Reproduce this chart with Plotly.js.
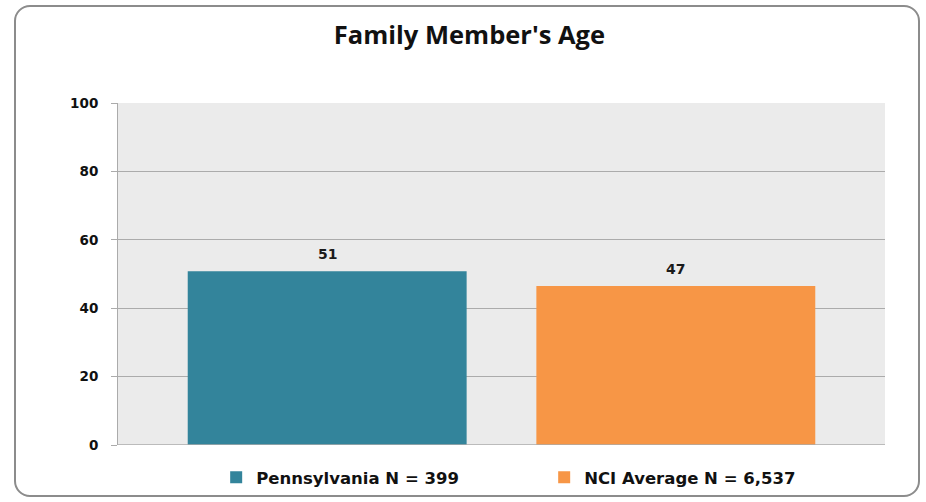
<!DOCTYPE html>
<html>
<head>
<meta charset="utf-8">
<script src="https://cdn.plot.ly/plotly-3.0.1.min.js"></script>
<style>
html,body{margin:0;padding:0;background:#fff;}
#wrap{position:relative;width:926px;height:502px;}
#chart{position:absolute;left:0;top:0;width:926px;height:502px;}
#frame{position:absolute;left:14px;top:5px;width:902px;height:488px;border:2px solid #8c8c8c;border-radius:16px;pointer-events:none;}
</style>
</head>
<body>
<div id="wrap"><div id="chart"></div><div id="frame"></div></div>
<script>
const categories = ["Pennsylvania", "NCI Average"];
const seriesNames = ["Pennsylvania N = 399", "NCI Average N = 6,537"];
const values = [50.8, 46.5];
const labels = ["51", "47"];
const colors = ["#33849b", "#f79646"];
const yTicks = [0, 20, 40, 60, 80, 100];

const traces = categories.map((c, i) => ({
  type: "bar",
  x: [c],
  y: [values[i]],
  name: seriesNames[i],
  width: 0.8,
  marker: {color: colors[i], line: {width: 0}},
  hoverinfo: "skip"
}));

const annotations = categories.map((c, i) => ({
  x: c, y: values[i], xref: "x", yref: "y",
  text: labels[i], showarrow: false, yshift: 17,
  font: {family: "DejaVu Sans", size: 14, color: "#1a1a1a", weight: "bold"}
}));

const layout = {
  width: 926, height: 502,
  margin: {l: 118, r: 41, t: 103, b: 57},
  paper_bgcolor: "rgba(0,0,0,0)",
  plot_bgcolor: "#ebebeb",
  barmode: "overlay",
  title: {
    text: "<b>Family Member's Age</b>",
    font: {family: "Open Sans", size: 25.5, color: "#111"},
    x: 0.507, xanchor: "center", xref: "container",
    y: 0.93, yanchor: "middle", yref: "container"
  },
  xaxis: {
    type: "category", categoryarray: categories, range: [-0.6, 1.6],
    showticklabels: false, ticks: "", showgrid: false, zeroline: false,
    showline: false, fixedrange: true
  },
  yaxis: {
    range: [0, 100], tickvals: yTicks, ticktext: yTicks.map(String),
    showgrid: true, gridcolor: "#ababab", gridwidth: 1,
    showline: true, linecolor: "#ababab", linewidth: 1,
    ticks: "outside", ticklen: 6, tickcolor: "#ababab",
    ticklabelstandoff: 10,
    zeroline: false,
    tickfont: {family: "DejaVu Sans", size: 13.5, color: "#111", weight: "bold"},
    fixedrange: true
  },
  shapes: [{type: "line", xref: "paper", yref: "y", x0: 0, x1: 1, y0: 0, y1: 0, line: {color: "#ababab", width: 1.5}}],
  showlegend: true,
  legend: {
    orientation: "h", x: 0.128, xanchor: "left",
    y: 0.0488, yanchor: "middle", yref: "container",
    font: {family: "DejaVu Sans", size: 16.5, color: "#111", weight: "bold"},
    entrywidth: 283, itemclick: false, itemdoubleclick: false,
    bgcolor: "rgba(0,0,0,0)", traceorder: "normal"
  },
  annotations: annotations
};

Plotly.newPlot("chart", traces, layout, {displayModeBar: false, staticPlot: true});
</script>
</body>
</html>
